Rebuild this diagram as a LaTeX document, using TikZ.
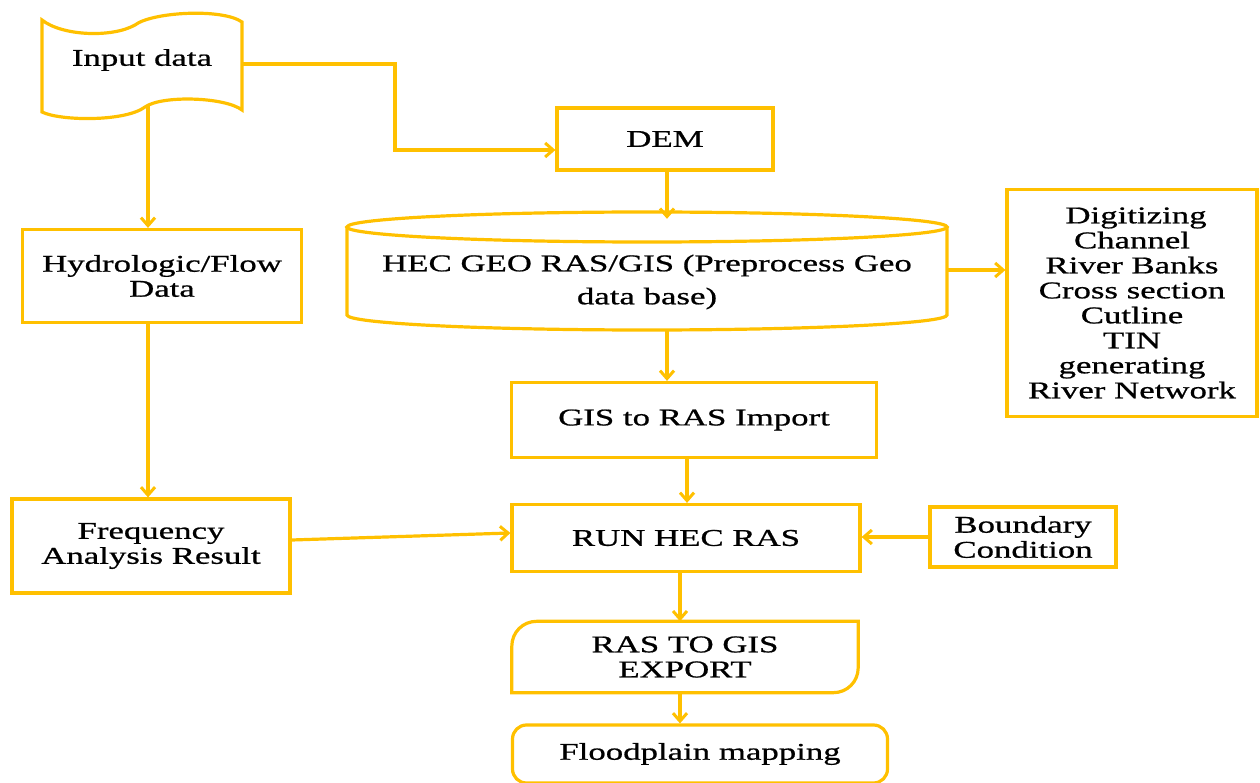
\documentclass[tikz,border=0pt]{standalone}
\usepackage{fontspec}
\setmainfont{Liberation Serif}[FakeStretch=1.45,FakeBold=0.8]
\usetikzlibrary{arrows.meta,calc}
\definecolor{ora}{RGB}{255,192,0}
\tikzset{
  ln/.style={draw=ora, line width=3.2pt},
  box/.style={ln, rectangle, align=center, inner sep=0pt, font=\fontsize{24}{25}\selectfont},
  txt/.style={align=center, inner sep=0pt, font=\fontsize{24}{25}\selectfont},
  arr/.style={draw=ora, line width=3.2pt, -{Straight Barb[length=8pt,width=14pt,line width=3pt]}}
}
\begin{document}
\begin{tikzpicture}[x=1pt,y=-1pt]
\useasboundingbox (0,0) rectangle (1260,783);
% Input data (tape shape)
\draw[ln] (42,20) .. controls (62,36) and (112,38) .. (135,25) .. controls (152,12) and (222,8) .. (242,22)
  -- (242,110) .. controls (225,97) and (162,95) .. (145,107) .. controls (125,122) and (60,121) .. (42,112) -- cycle;
\node[txt, minimum width=200, minimum height=100] (input) at (142,60) {Input data};
\coordinate (inr) at (242,64);
\coordinate (inbot) at (148,106);

\node[box, minimum width=216, minimum height=62] (dem) at (665,139) {DEM};

% cylinder
\node[minimum width=600, minimum height=118, inner sep=0pt] (geo) at (647,272) {};
\node[txt] (geotxt) at (647,282) {HEC GEO RAS/GIS (Preprocess Geo\\[8pt]data base)};
\draw[ln] (647,227) ellipse [x radius=300, y radius=15];
\draw[ln] (347,227) -- (347,315) .. controls (347,323.3) and (481.3,330) .. (647,330)
  .. controls (812.7,330) and (947,323.3) .. (947,315) -- (947,227);
\coordinate (ge) at ($(geo.east)+(0,-2)$);

\node[box, minimum width=250, minimum height=227] (dig) at (1132,303)
  {\,\,Digitizing\\Channel\\River Banks\\Cross section\\Cutline\\TIN\\generating\\River Network};

\node[box, minimum width=279, minimum height=93] (hyd) at (162,276) {Hydrologic/Flow\\Data};
\node[box, minimum width=278, minimum height=94] (freq) at (151,546) {Frequency\\Analysis Result};
\node[box, minimum width=365, minimum height=75] (gis) at (694,420) {GIS to RAS Import};
\node[box, minimum width=348, minimum height=67] (run) at (686,538) {RUN HEC RAS};
\node[box, minimum width=186, minimum height=60] (bc) at (1023,537) {Boundary\\Condition};

% RAS to GIS export (two rounded corners)
\node[txt, minimum width=346, minimum height=71] (ras) at (685,657) {RAS TO GIS\\EXPORT};
\draw[ln] (ras.south west) -- ($(ras.north west)+(0,25)$) .. controls ($(ras.north west)+(0,11)$) and ($(ras.north west)+(11,0)$) .. ($(ras.north west)+(25,0)$)
  -- (ras.north east) -- ($(ras.south east)+(0,-25)$) .. controls ($(ras.south east)+(0,-11)$) and ($(ras.south east)+(-11,0)$) .. ($(ras.south east)+(-25,0)$) -- cycle;

\node[box, rounded corners=14pt, minimum width=375, minimum height=58] (flood) at (700,754) {Floodplain mapping};

% connectors
\draw[arr] (inr) -- ++(153,0) |- ([yshift=-11pt]dem.west);
\draw[arr] ($(geo.north)+(20,-43)$) -- ($(geo.north)+(20,6)$);
\draw[arr] ($(geo.south)+(20,0)$) -- ($(gis.north)+(-27,0)$);
\draw[arr] (ge) -- (ge -| dig.west);
\draw[arr] (inbot) -- (inbot |- hyd.north);
\draw[arr] (hyd.south -| inbot) -- (freq.north -| inbot);
\draw[arr] ([yshift=6pt]freq.east) -- ([yshift=5pt]run.west);
\draw[arr] ([xshift=-7pt]gis.south) -- ([xshift=-7pt]gis.south |- run.north);
\draw[arr] (bc.west) -- (bc.west -| run.east);
\draw[arr] ([xshift=-6pt]run.south) -- ([xshift=-6pt]run.south |- ras.north);
\draw[arr] ([xshift=-5pt]ras.south) -- ([xshift=-5pt]ras.south |- flood.north);
\end{tikzpicture}
\end{document}
